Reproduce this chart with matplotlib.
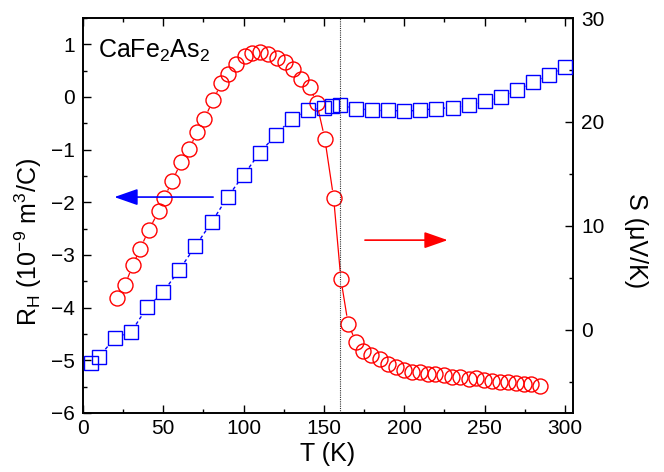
import numpy as np
import matplotlib
matplotlib.use("Agg")
import matplotlib.pyplot as plt
from matplotlib.collections import LineCollection
from matplotlib.ticker import MultipleLocator

plt.rcParams['font.family'] = ['Liberation Sans', 'DejaVu Sans']
plt.rcParams['mathtext.fontset'] = 'custom'
plt.rcParams['mathtext.rm'] = 'Liberation Sans'
plt.rcParams['mathtext.it'] = 'Liberation Sans:italic'
plt.rcParams['mathtext.default'] = 'regular'

# ---- data ----
T_RH = [5, 10, 20, 30, 40, 50, 60, 70, 80, 90, 100, 110, 120, 130, 140, 150, 155, 160,
        170, 180, 190, 200, 210, 220, 230, 240, 250, 260, 270, 280, 290, 300]
RH = [-5.05, -4.93, -4.57, -4.46, -3.99, -3.70, -3.28, -2.83, -2.38, -1.90, -1.48, -1.06,
      -0.72, -0.41, -0.25, -0.20, -0.17, -0.16, -0.22, -0.25, -0.25, -0.27, -0.25, -0.22,
      -0.20, -0.16, -0.08, 0.00, 0.13, 0.28, 0.42, 0.57]

T_S = [21, 26, 31, 35.5, 41, 47, 50.5, 55.5, 61, 66, 71, 75.5, 81, 86, 90.5, 95, 101, 105.5,
       110, 115, 120.5, 125.5, 131, 136, 141, 145.5, 150.5, 156, 160.5, 165, 170, 174.5,
       179.5, 185, 190, 195, 199.5, 204.5, 209.5, 214.5, 219, 224.5, 229.5, 234.5, 240,
       244.5, 249.5, 254.5, 259.5, 264.5, 269.5, 274.5, 279, 284.5]
S = [3.1, 4.3, 6.2, 7.8, 9.6, 11.4, 12.7, 14.3, 16.1, 17.4, 19.0, 20.3, 22.1, 23.7, 24.6,
     25.6, 26.3, 26.6, 26.7, 26.5, 26.2, 25.8, 25.1, 24.1, 23.4, 21.8, 18.4, 12.7, 4.9, 0.6,
     -1.2, -2.0, -2.4, -2.8, -3.3, -3.6, -3.9, -4.1, -4.1, -4.2, -4.2, -4.3, -4.5, -4.5,
     -4.7, -4.6, -4.8, -4.9, -5.0, -5.0, -5.1, -5.2, -5.2, -5.4]

T_transition = 160
sample_label = r'CaFe$_2$As$_2$'

DPI = 100
fig = plt.figure(figsize=(6.64, 4.72), dpi=DPI)
ax = fig.add_axes([83/664, 1-413/472, 490/664, 395/472])
ax2 = ax.twinx()

ax.set_xlim(0, 305)
ax.set_ylim(-6, 1.5)
ax2.set_ylim(-8, 30)

blue = '#0000FF'
red = '#FF0000'
ms_c = 10.8
ms_s = 10.0


def gapped(axis, x, y, half, shape):
    pts = axis.transData.transform(np.column_stack([x, y]))
    inv = axis.transData.inverted()
    segs = []
    for p, q in zip(pts[:-1], pts[1:]):
        d = q - p
        L = np.hypot(*d)
        u = d / L
        if shape == 'square':
            g = half / max(abs(u[0]), abs(u[1]))
        else:
            g = half
        if L <= 2 * g + 1:
            continue
        segs.append(inv.transform([p + u * g, q - u * g]))
    return segs

# red S curve (right axis)
half_c = ms_c * DPI / 72 / 2 + 0.5
lc_r = LineCollection(gapped(ax2, T_S, S, half_c, 'circle'), colors=red, linewidths=0.9)
ax2.add_collection(lc_r)
ax2.plot(T_S, S, linestyle='none', marker='o', ms=ms_c, mfc='none', mec=red, mew=1.0)

# blue RH curve (left axis)
half_s = ms_s * DPI / 72 / 2 + 0.5
lc_b = LineCollection(gapped(ax, T_RH, RH, half_s, 'square'), colors=blue,
                      linewidths=1.0, linestyles=[(0, (2.5, 2.0))])
ax.add_collection(lc_b)
ax.plot(T_RH, RH, linestyle='none', marker='s', ms=ms_s, mfc='none', mec=blue, mew=1.0,
        zorder=5)
ax.set_zorder(ax2.get_zorder() + 1)
ax.patch.set_visible(False)

ax.axvline(T_transition, color='#333333', linestyle=(0, (1, 1)), lw=0.8, zorder=6)

# arrows
ax.annotate('', xy=(19.5, -1.9), xytext=(81, -1.9),
            arrowprops=dict(arrowstyle='-|>,head_length=0.8,head_width=0.28',
                            mutation_scale=18, color=blue, lw=1.2,
                            shrinkA=0, shrinkB=0))
ax2.annotate('', xy=(227, 8.63), xytext=(175.5, 8.63),
             arrowprops=dict(arrowstyle='-|>,head_length=0.8,head_width=0.28',
                             mutation_scale=18, color=red, lw=1.2,
                             shrinkA=0, shrinkB=0))

ax.text(0.031, 0.899, sample_label, transform=ax.transAxes, fontsize=18,
        ha='left', va='baseline')

# ticks
ax.xaxis.set_major_locator(MultipleLocator(50))
ax.xaxis.set_minor_locator(MultipleLocator(25))
ax.yaxis.set_major_locator(MultipleLocator(1))
ax.yaxis.set_minor_locator(MultipleLocator(0.5))
ax2.yaxis.set_major_locator(MultipleLocator(10))
ax2.yaxis.set_minor_locator(MultipleLocator(5))

ax.tick_params(axis='x', which='both', direction='in', top=True, labelsize=15, pad=4)
ax.tick_params(axis='y', which='both', direction='in', right=False, labelsize=15, pad=6)
ax2.tick_params(axis='y', which='both', direction='in', labelsize=15, pad=6)
for a in (ax, ax2):
    a.tick_params(which='major', length=5.5, width=1.0)
    a.tick_params(which='minor', length=3, width=1.0)
    for sp in a.spines.values():
        sp.set_linewidth(1.2)

ax.set_xlabel('T (K)', fontsize=18, labelpad=3)
fig.text(28/664, 1-242/472, r'R$_H$ (10$^{-9}$ m$^3$/C)', rotation=90, fontsize=18,
         ha='center', va='center')
fig.text(636/664, 1-241/472, 'S (μV/K)', rotation=270, fontsize=18,
         ha='center', va='center')

fig.savefig('out.png', dpi=DPI)
